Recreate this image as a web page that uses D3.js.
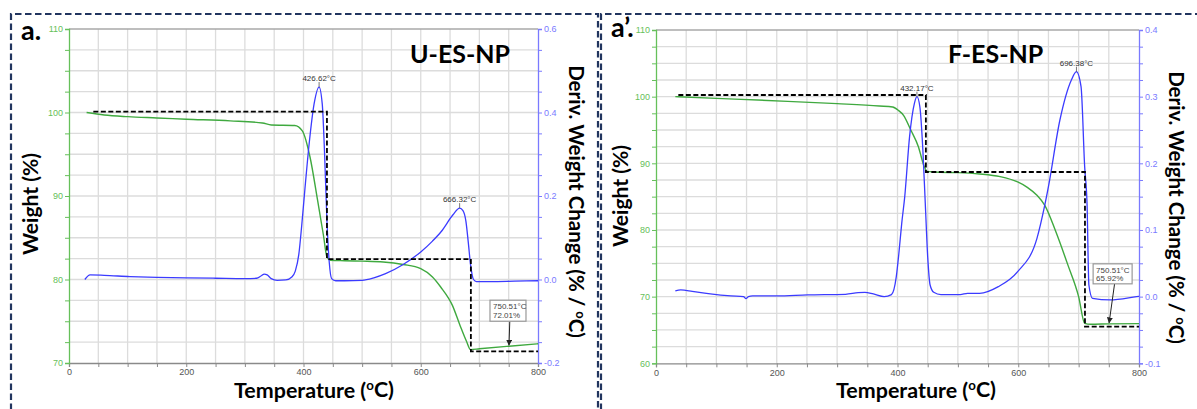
<!DOCTYPE html>
<html>
<head>
<meta charset="utf-8">
<script src="https://cdn.jsdelivr.net/npm/d3@7"></script>
<style>
  html, body { margin: 0; padding: 0; background: #fff; }
  svg { display: block; }
</style>
</head>
<body>
<svg id="chart" width="1197" height="409"></svg>
<script>
// ---------- data ----------
const tempDomain = [0, 800];
const tempTickLabels = [0, 200, 400, 600, 800];

// U-ES-NP
const uWeightTemp = [30, 60, 100, 150, 200, 275, 330, 345, 385, 398, 411, 424, 434, 440, 446, 470, 500, 536, 570, 600, 620, 634, 654, 667, 678, 685, 700, 750.51, 800];
const uWeight     = [100, 99.7, 99.5, 99.35, 99.2, 99.0, 98.75, 98.5, 98.45, 97.8, 94.7, 89.5, 85.3, 82.7, 82.3, 82.25, 82.2, 82.1, 81.8, 81.3, 80.3, 79.1, 76.9, 74.5, 72.6, 71.6, 71.7, 72.01, 72.3];
const uDerivTemp  = [27, 36, 60, 104, 150, 200, 250, 300, 320, 328, 333, 338, 345, 355, 370, 380, 386, 392, 397, 402, 410, 418, 426.62, 432, 436, 440, 444, 448, 455, 470, 500, 520, 540, 570, 600, 620, 635, 655, 666.32, 672, 677, 681, 685, 690, 695, 720, 760, 800];
const uDeriv      = [0.0, 0.011, 0.010, 0.007, 0.005, 0.004, 0.003, 0.002, 0.003, 0.009, 0.013, 0.011, 0.002, -0.002, -0.001, 0.006, 0.02, 0.06, 0.13, 0.21, 0.33, 0.42, 0.461, 0.42, 0.3, 0.14, 0.04, 0.002, -0.003, -0.003, -0.002, 0.004, 0.014, 0.036, 0.066, 0.092, 0.115, 0.155, 0.171, 0.165, 0.14, 0.09, 0.035, 0.0, -0.005, -0.005, -0.004, -0.003];
const uStepTemp   = [41.5, 440, 440, 685.5, 685.5, 800];
const uStepWeight = [100.1, 100.1, 82.45, 82.45, 71.4, 71.4];
const uPeakTemp   = [426.62, 666.32];
const uPeakDeriv  = [0.461, 0.171];
const uResidueTemp = 750.51, uResidueWeight = 72.01;
const uWeightTicks = [110, 100, 90, 80, 70];
const uDerivTicks  = [0.6, 0.4, 0.2, 0.0, -0.2];

// F-ES-NP
const fWeightTemp = [32, 100, 218, 300, 370, 392, 402, 410, 422, 434.6, 444, 449, 470, 500, 536, 570, 599, 615, 631, 644, 662, 682, 700, 710, 720, 750.51, 800];
const fWeight     = [100, 99.75, 99.3, 98.95, 98.6, 98.45, 97.9, 97.2, 95.0, 92.5, 89.6, 88.8, 88.65, 88.6, 88.4, 88.0, 87.2, 86.4, 85.2, 83.7, 79.8, 74.8, 70.0, 66.0, 65.85, 65.92, 65.95];
const fDerivTemp  = [32, 41, 60, 90, 124, 145, 149, 153, 160, 200, 251, 314, 335, 346, 360, 378, 390, 398, 402, 407, 412, 420, 428, 432.17, 437, 442, 446, 450, 454, 460, 472, 504, 516, 536, 567, 599, 631, 644, 650, 669, 688, 696.38, 704, 710, 714, 717, 723, 752, 796, 800];
const fDeriv      = [0.0085, 0.010, 0.008, 0.004, 0.001, 0.0, -0.003, 0.0, 0.001, 0.001, 0.0025, 0.0035, 0.006, 0.0065, 0.004, 0.0, 0.003, 0.03, 0.0625, 0.11, 0.15, 0.24, 0.29, 0.3, 0.285, 0.22, 0.14, 0.06, 0.0175, 0.0065, 0.003, 0.003, 0.005, 0.005, 0.015, 0.0375, 0.0875, 0.1375, 0.165, 0.265, 0.325, 0.3375, 0.315, 0.195, 0.1375, 0.0175, -0.0025, -0.005, 0.0, 0.0005];
const fStepTemp   = [37, 447, 447, 710.5, 710.5, 800];
const fStepWeight = [100.25, 100.25, 88.7, 88.7, 65.5, 65.5];
const fPeakTemp   = [432.17, 696.38];
const fPeakDeriv  = [0.3, 0.3375];
const fResidueTemp = 750.51, fResidueWeight = 65.92;
const fWeightTicks = [110, 100, 90, 80, 70, 60];
const fDerivTicks  = [0.4, 0.3, 0.2, 0.1, 0.0, -0.1];

// ---------- layout ----------
const panels = [
  {
    x0: 69, x1: 538, y0: 29, y1: 363,
    wDomain: [70, 110], dDomain: [-0.2, 0.6], dMinor: 0.05,
    wT: uWeightTemp, w: uWeight, dT: uDerivTemp, d: uDeriv,
    sT: uStepTemp, sW: uStepWeight,
    pT: uPeakTemp, pD: uPeakDeriv,
    rT: uResidueTemp, rW: uResidueWeight,
    wTicks: uWeightTicks, dTicks: uDerivTicks,
    letter: "a.", letterPos: [21, 40],
    title: "U-ES-NP", titlePos: [410, 63],
    wLabel: [31, 204], dLabel: [576, 201.5], tLabel: [314, 397.5],
    box: { dx: -19, dy: -46, w: 36, h: 21 },
    border: "M11,420 V14 H598 V420"
  },
  {
    x0: 656, x1: 1139, y0: 30, y1: 363.3,
    wDomain: [60, 110], dDomain: [-0.1, 0.4], dMinor: 0.025,
    wT: fWeightTemp, w: fWeight, dT: fDerivTemp, d: fDeriv,
    sT: fStepTemp, sW: fStepWeight,
    pT: fPeakTemp, pD: fPeakDeriv,
    rT: fResidueTemp, rW: fResidueWeight,
    wTicks: fWeightTicks, dTicks: fDerivTicks,
    letter: "a\u2019.", letterPos: [611, 37],
    title: "F-ES-NP", titlePos: [948, 63],
    wLabel: [621, 196], dLabel: [1176, 207.5], tLabel: [916, 397.5],
    box: { dx: -16, dy: -60, w: 39, h: 20 },
    border: "M601,420 V14 H1205"
  }
];

const GREEN = "#3fa93f", BLUE = "#3b3bff";
const GREEN_AX = "#66c05a", BLUE_AX = "#7a7aff";
const TICK_FONT = "Liberation Sans, Arial, sans-serif";
const TITLE_FONT = "Lato, 'Open Sans', sans-serif";

const svg = d3.select("#chart");

svg.append("defs").append("marker")
  .attr("id", "arrowHead")
  .attr("viewBox", "0 0 10 10")
  .attr("refX", 9).attr("refY", 5)
  .attr("markerWidth", 6).attr("markerHeight", 6)
  .attr("markerUnits", "userSpaceOnUse")
  .attr("orient", "auto")
  .append("path").attr("d", "M0,0 L10,5 L0,10 z").attr("fill", "#222");

// fit a text element to a target length by adjusting its font size
function fitText(sel, base, target) {
  sel.attr("font-size", base);
  const len = sel.node().getComputedTextLength();
  if (len > 0) sel.attr("font-size", base * target / len);
}

panels.forEach(p => {
  const g = svg.append("g");
  const x = d3.scaleLinear().domain(tempDomain).range([p.x0, p.x1]);
  const yW = d3.scaleLinear().domain(p.wDomain).range([p.y1, p.y0]);
  const yD = d3.scaleLinear().domain(p.dDomain).range([p.y1, p.y0]);

  // panel frame (dashed)
  svg.append("path").attr("d", p.border)
    .attr("fill", "none").attr("stroke", "#22355f")
    .attr("stroke-width", 2.2).attr("stroke-dasharray", "6.5,3.5");

  // grid
  const vGrid = d3.range(50, 800, 50);
  const hGrid = d3.range(p.wDomain[0] + 2.5, p.wDomain[1], 2.5);
  g.append("g").selectAll("line").data(vGrid).join("line")
    .attr("x1", d => x(d)).attr("x2", d => x(d))
    .attr("y1", p.y0).attr("y2", p.y1)
    .attr("stroke", "#dcdcdc").attr("stroke-width", 1.3);
  g.append("g").selectAll("line").data(hGrid).join("line")
    .attr("x1", p.x0).attr("x2", p.x1)
    .attr("y1", d => yW(d)).attr("y2", d => yW(d))
    .attr("stroke", "#dcdcdc").attr("stroke-width", 1.3);
  g.append("line").attr("x1", p.x0).attr("x2", p.x1)
    .attr("y1", p.y0).attr("y2", p.y0)
    .attr("stroke", "#a8a8a8").attr("stroke-width", 1.3);

  // bottom axis
  const xAxis = d3.axisBottom(x)
    .tickValues(d3.range(0, 801, 50))
    .tickSize(4).tickPadding(2)
    .tickFormat(d => tempTickLabels.includes(d) ? d : "");
  const gx = g.append("g").attr("transform", `translate(0,${p.y1})`).call(xAxis);
  gx.select(".domain").attr("stroke", "#8a8a8a").attr("stroke-width", 1.3);
  gx.selectAll(".tick line").attr("stroke", "#8a8a8a");
  gx.selectAll(".tick text").attr("fill", "#555").attr("font-size", 9).attr("font-family", TICK_FONT);

  // left (weight) axis
  const wMinor = d3.range(p.wDomain[0], p.wDomain[1] + 0.01, 2.5);
  const yAxisL = d3.axisLeft(yW).tickValues(wMinor).tickSize(4).tickPadding(2)
    .tickFormat(d => p.wTicks.includes(d) ? d : "");
  const gl = g.append("g").attr("transform", `translate(${p.x0},0)`).call(yAxisL);
  gl.select(".domain").attr("stroke", GREEN_AX).attr("stroke-width", 1.3);
  gl.selectAll(".tick line").attr("stroke", GREEN_AX);
  gl.selectAll(".tick text").attr("fill", GREEN_AX).attr("font-size", 9).attr("font-family", TICK_FONT);

  // right (derivative) axis
  const nMinor = Math.round((p.dDomain[1] - p.dDomain[0]) / p.dMinor);
  const dMinorVals = d3.range(nMinor + 1).map(i => +(p.dDomain[0] + i * p.dMinor).toFixed(4));
  const yAxisR = d3.axisRight(yD).tickValues(dMinorVals).tickSize(4).tickPadding(2)
    .tickFormat(d => p.dTicks.some(t => Math.abs(t - d) < 1e-6) ? d.toFixed(1) : "");
  const gr = g.append("g").attr("transform", `translate(${p.x1},0)`).call(yAxisR);
  gr.select(".domain").attr("stroke", BLUE_AX).attr("stroke-width", 1.3);
  gr.selectAll(".tick line").attr("stroke", BLUE_AX);
  gr.selectAll(".tick text").attr("fill", BLUE_AX).attr("font-size", 9).attr("font-family", TICK_FONT);

  // weight curve
  const wLine = d3.line().x((d, i) => x(p.wT[i])).y(d => yW(d)).curve(d3.curveMonotoneX);
  g.append("path").attr("d", wLine(p.w))
    .attr("fill", "none").attr("stroke", GREEN).attr("stroke-width", 1.4);

  // derivative curve
  const dLine = d3.line().x((d, i) => x(p.dT[i])).y(d => yD(d)).curve(d3.curveMonotoneX);
  g.append("path").attr("d", dLine(p.d))
    .attr("fill", "none").attr("stroke", BLUE).attr("stroke-width", 1.3);

  // step construction
  const sLine = d3.line().x((d, i) => x(p.sT[i])).y(d => yW(d));
  g.append("path").attr("d", sLine(p.sW))
    .attr("fill", "none").attr("stroke", "#000").attr("stroke-width", 1.8)
    .attr("stroke-dasharray", "5,2.5");

  // peak labels
  p.pT.forEach((t, i) => {
    const px = x(t), py = yD(p.pD[i]);
    g.append("line").attr("x1", px).attr("x2", px).attr("y1", py - 5).attr("y2", py)
      .attr("stroke", "#555").attr("stroke-width", 0.8);
    g.append("text").attr("x", px).attr("y", py - 6)
      .attr("text-anchor", "middle").attr("font-size", 8)
      .attr("font-family", TICK_FONT).attr("fill", "#333")
      .text(t.toFixed(2) + "\u00b0C");
  });

  // residue annotation
  const mx = x(p.rT), my = yW(p.rW);
  const bx = mx + p.box.dx, by = my + p.box.dy;
  g.append("line")
    .attr("x1", bx + p.box.w * 0.55).attr("y1", by + p.box.h)
    .attr("x2", mx).attr("y2", my - 1)
    .attr("stroke", "#222").attr("stroke-width", 1)
    .attr("marker-end", "url(#arrowHead)");
  g.append("rect").attr("x", bx).attr("y", by).attr("width", p.box.w).attr("height", p.box.h)
    .attr("fill", "#fff").attr("stroke", "#999").attr("stroke-width", 1.2);
  const bt = g.append("text").attr("font-size", 8).attr("font-family", TICK_FONT).attr("fill", "#444");
  bt.append("tspan").attr("x", bx + 3).attr("y", by + 9).text(p.rT.toFixed(2) + "\u00b0C");
  bt.append("tspan").attr("x", bx + 3).attr("y", by + 17.5).text(p.rW.toFixed(2) + "%");

  // panel letter and sample name
  svg.append("text").attr("x", p.letterPos[0]).attr("y", p.letterPos[1])
    .attr("font-family", TITLE_FONT).attr("font-weight", 700).attr("font-size", 27)
    .attr("fill", "#000").text(p.letter);
  svg.append("text").attr("x", p.titlePos[0]).attr("y", p.titlePos[1])
    .attr("font-family", TITLE_FONT).attr("font-weight", 700).attr("font-size", 25)
    .attr("fill", "#000").text(p.title);

  // axis titles
  const tl = svg.append("text").attr("x", p.tLabel[0]).attr("y", p.tLabel[1])
    .attr("text-anchor", "middle").attr("font-family", TITLE_FONT).attr("font-weight", 700);
  tl.append("tspan").text("Temperature (");
  tl.append("tspan").attr("font-size", "0.62em").attr("dy", "-0.55em").text("o");
  tl.append("tspan").attr("dy", "0.34em").text("C)");
  fitText(tl, 20, 160);

  const wl = svg.append("text")
    .attr("transform", `translate(${p.wLabel[0]},${p.wLabel[1]}) rotate(-90)`)
    .attr("x", 0).attr("y", 7)
    .attr("text-anchor", "middle").attr("font-family", TITLE_FONT).attr("font-weight", 700)
    .text("Weight (%)");
  fitText(wl, 20, 102);

  const dl = svg.append("text")
    .attr("transform", `translate(${p.dLabel[0]},${p.dLabel[1]}) rotate(90)`)
    .attr("x", 0).attr("y", 7)
    .attr("text-anchor", "middle").attr("font-family", TITLE_FONT).attr("font-weight", 700);
  dl.append("tspan").text("Deriv. Weight Change (% / ");
  dl.append("tspan").attr("font-size", "0.62em").attr("dy", "-0.55em").text("o");
  dl.append("tspan").attr("dy", "0.34em").text("C)");
  fitText(dl, 20, 273);
});
</script>
</body>
</html>
